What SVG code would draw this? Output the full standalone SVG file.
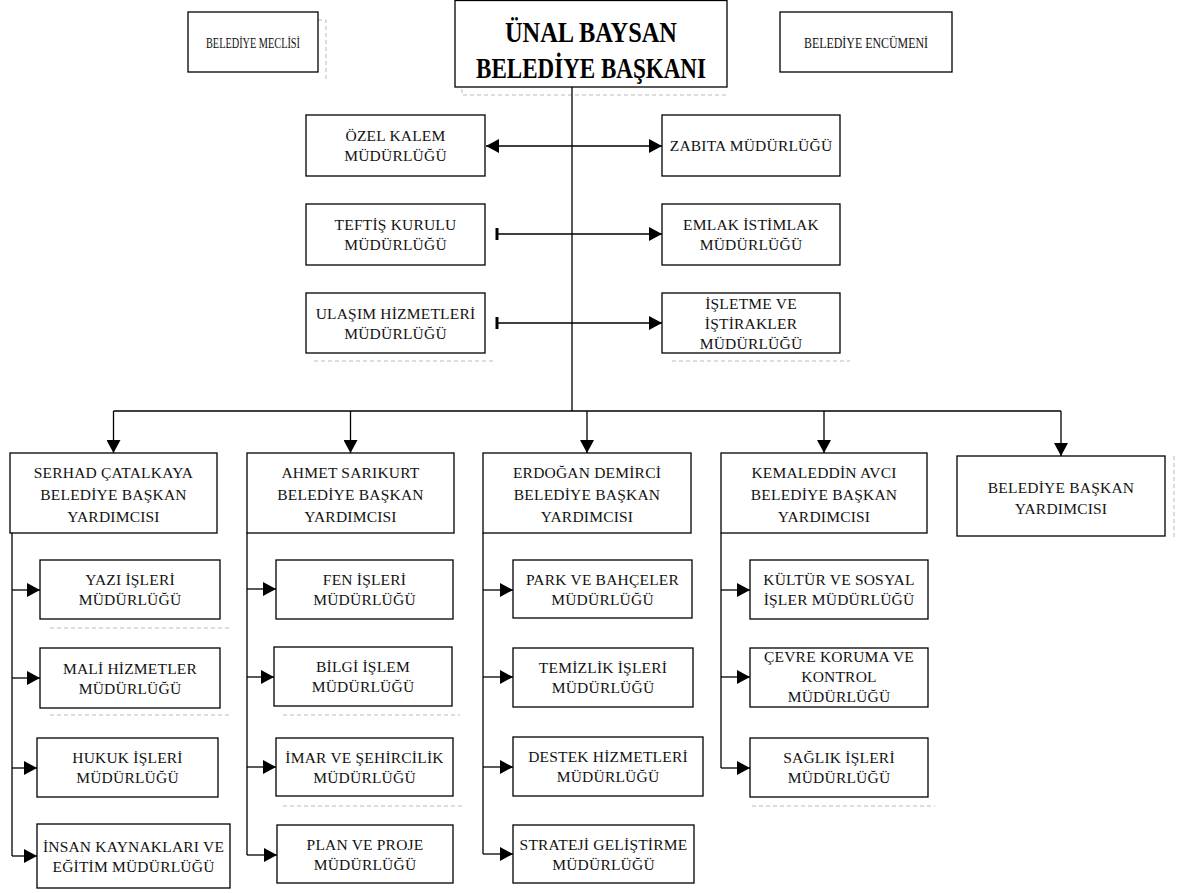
<svg xmlns="http://www.w3.org/2000/svg" width="1179" height="893" viewBox="0 0 1179 893">
<style>
.b{fill:#fff;stroke:#000;stroke-width:1.3}
.t{font-family:"Liberation Serif",serif;font-size:15.5px;text-anchor:middle;fill:#111;letter-spacing:0.2px}
.s{font-size:15.5px;letter-spacing:0}
.h{font-family:"Liberation Serif",serif;font-size:29px;font-weight:bold;text-anchor:middle;fill:#000}
.c{fill:none;stroke:#000;stroke-width:1.3}
.k{fill:none;stroke:#000;stroke-width:3}
.a{fill:none;stroke:#000;stroke-width:1.3;marker-end:url(#ar)}
.g{fill:none;stroke:#bbb;stroke-width:1;stroke-dasharray:4 3}
</style>
<defs>
<marker id="ar" markerUnits="userSpaceOnUse" markerWidth="14" markerHeight="14" refX="13" refY="7" orient="auto-start-reverse"><path d="M0,0 L13,7 L0,14 z" fill="#000"/></marker>
</defs>
<rect width="1179" height="893" fill="#fff"/>

<g id="decor">
<path class="g" d="M318,20 H326 V82"/>
<path class="g" d="M462,89 V95 H727"/>
<path class="g" d="M314,361 H495 M672,361 H850"/>
<path class="g" d="M50,628 H230 M50,715 H230"/>
<path class="g" d="M283,715 H460 M283,806 H463"/>
<path class="g" d="M752,806 H935"/>
<path class="g" d="M1174,456 V540"/>
</g>

<g id="connectors">
<path class="c" d="M572,87 V411"/>
<path class="c" d="M486,146 H662" marker-start="url(#ar)" marker-end="url(#ar)"/>
<path class="a" d="M497,234 H662"/>
<path class="k" d="M497,228 V240"/>
<path class="a" d="M497,323 H662"/>
<path class="k" d="M497,317 V329"/>
<path class="c" d="M113.5,411 H1061"/>
<path class="a" d="M113.5,411 V453"/>
<path class="a" d="M350.5,411 V453"/>
<path class="a" d="M587,411 V453"/>
<path class="a" d="M824,411 V453"/>
<path class="a" d="M1061,411 V456"/>
<path class="c" d="M12,533 V856"/>
<path class="a" d="M12,590 H40"/>
<path class="a" d="M12,678 H40"/>
<path class="a" d="M12,768 H37"/>
<path class="a" d="M12,856 H37"/>
<path class="c" d="M247,533 V855"/>
<path class="a" d="M247,589 H276"/>
<path class="a" d="M247,677 H274"/>
<path class="a" d="M247,767 H276"/>
<path class="a" d="M247,855 H277"/>
<path class="c" d="M483,533 V854"/>
<path class="a" d="M483,590 H513"/>
<path class="a" d="M483,677 H513"/>
<path class="a" d="M483,767 H513"/>
<path class="a" d="M483,854 H513"/>
<path class="c" d="M721,533 V768"/>
<path class="a" d="M721,590 H750"/>
<path class="a" d="M721,677 H750"/>
<path class="a" d="M721,768 H750"/>
</g>

<g id="meclis"><rect class="b" x="188" y="12" width="130" height="60"/><text class="t s" x="253" y="48" textLength="94" lengthAdjust="spacingAndGlyphs">BELEDİYE MECLİSİ</text></g>
<g id="baskan"><rect class="b" x="455" y="0.5" width="272" height="86.5"/><text class="h" x="591" y="42" textLength="172" lengthAdjust="spacingAndGlyphs">ÜNAL BAYSAN</text><text class="h" x="591" y="78" textLength="230" lengthAdjust="spacingAndGlyphs">BELEDİYE BAŞKANI</text></g>
<g id="encumen"><rect class="b" x="780" y="12" width="172" height="60"/><text class="t s" x="866" y="48" textLength="124" lengthAdjust="spacingAndGlyphs">BELEDİYE ENCÜMENİ</text></g>

<g id="ozelkalem"><rect class="b" x="306" y="115" width="179" height="61"/><text class="t" x="395.5" y="141">ÖZEL KALEM</text><text class="t" x="395.5" y="161">MÜDÜRLÜĞÜ</text></g>
<g id="zabita"><rect class="b" x="662" y="115" width="178" height="61"/><text class="t" x="751" y="151">ZABITA MÜDÜRLÜĞÜ</text></g>
<g id="teftis"><rect class="b" x="306" y="204" width="179" height="61"/><text class="t" x="395.5" y="230">TEFTİŞ KURULU</text><text class="t" x="395.5" y="250">MÜDÜRLÜĞÜ</text></g>
<g id="emlak"><rect class="b" x="662" y="204" width="178" height="61"/><text class="t" x="751" y="230">EMLAK İSTİMLAK</text><text class="t" x="751" y="250">MÜDÜRLÜĞÜ</text></g>
<g id="ulasim"><rect class="b" x="306" y="293" width="179" height="60"/><text class="t" x="395.5" y="318.5">ULAŞIM HİZMETLERİ</text><text class="t" x="395.5" y="338.5">MÜDÜRLÜĞÜ</text></g>
<g id="isletme"><rect class="b" x="662" y="293" width="178" height="60"/><text class="t" x="751" y="309">İŞLETME VE</text><text class="t" x="751" y="329">İŞTİRAKLER</text><text class="t" x="751" y="349">MÜDÜRLÜĞÜ</text></g>

<g id="serhad"><rect class="b" x="10" y="453" width="207" height="80"/><text class="t" x="113.5" y="478">SERHAD ÇATALKAYA</text><text class="t" x="113.5" y="500">BELEDİYE BAŞKAN</text><text class="t" x="113.5" y="522">YARDIMCISI</text></g>
<g id="ahmet"><rect class="b" x="247" y="453" width="207" height="80"/><text class="t" x="350.5" y="478">AHMET SARIKURT</text><text class="t" x="350.5" y="500">BELEDİYE BAŞKAN</text><text class="t" x="350.5" y="522">YARDIMCISI</text></g>
<g id="erdogan"><rect class="b" x="483" y="453" width="208" height="80"/><text class="t" x="587" y="478">ERDOĞAN DEMİRCİ</text><text class="t" x="587" y="500">BELEDİYE BAŞKAN</text><text class="t" x="587" y="522">YARDIMCISI</text></g>
<g id="kemaleddin"><rect class="b" x="721" y="453" width="206" height="80"/><text class="t" x="824" y="478">KEMALEDDİN AVCI</text><text class="t" x="824" y="500">BELEDİYE BAŞKAN</text><text class="t" x="824" y="522">YARDIMCISI</text></g>
<g id="yardimci"><rect class="b" x="957" y="456" width="208" height="80"/><text class="t" x="1061" y="493">BELEDİYE BAŞKAN</text><text class="t" x="1061" y="514">YARDIMCISI</text></g>

<g id="yazi"><rect class="b" x="40" y="560" width="180" height="59"/><text class="t" x="130" y="585">YAZI İŞLERİ</text><text class="t" x="130" y="605">MÜDÜRLÜĞÜ</text></g>
<g id="mali"><rect class="b" x="40" y="648" width="180" height="60"/><text class="t" x="130" y="673.5">MALİ HİZMETLER</text><text class="t" x="130" y="693.5">MÜDÜRLÜĞÜ</text></g>
<g id="hukuk"><rect class="b" x="37" y="738" width="181" height="59"/><text class="t" x="127.5" y="763">HUKUK İŞLERİ</text><text class="t" x="127.5" y="783">MÜDÜRLÜĞÜ</text></g>
<g id="insan"><rect class="b" x="37" y="824" width="193" height="64"/><text class="t" x="133.5" y="851.5">İNSAN KAYNAKLARI VE</text><text class="t" x="133.5" y="871.5">EĞİTİM MÜDÜRLÜĞÜ</text></g>

<g id="fen"><rect class="b" x="276" y="560" width="177" height="59"/><text class="t" x="364.5" y="585">FEN İŞLERİ</text><text class="t" x="364.5" y="605">MÜDÜRLÜĞÜ</text></g>
<g id="bilgi"><rect class="b" x="274" y="647" width="178" height="59"/><text class="t" x="363" y="672">BİLGİ İŞLEM</text><text class="t" x="363" y="692">MÜDÜRLÜĞÜ</text></g>
<g id="imar"><rect class="b" x="276" y="738" width="177" height="58"/><text class="t" x="364.5" y="762.5">İMAR VE ŞEHİRCİLİK</text><text class="t" x="364.5" y="782.5">MÜDÜRLÜĞÜ</text></g>
<g id="plan"><rect class="b" x="277" y="825" width="176" height="58"/><text class="t" x="365" y="849.5">PLAN VE PROJE</text><text class="t" x="365" y="869.5">MÜDÜRLÜĞÜ</text></g>

<g id="park"><rect class="b" x="513" y="560" width="179" height="58"/><text class="t" x="602.5" y="584.5">PARK VE BAHÇELER</text><text class="t" x="602.5" y="604.5">MÜDÜRLÜĞÜ</text></g>
<g id="temizlik"><rect class="b" x="513" y="648" width="180" height="59"/><text class="t" x="603" y="673">TEMİZLİK İŞLERİ</text><text class="t" x="603" y="693">MÜDÜRLÜĞÜ</text></g>
<g id="destek"><rect class="b" x="513" y="737" width="190" height="59"/><text class="t" x="608" y="762">DESTEK HİZMETLERİ</text><text class="t" x="608" y="782">MÜDÜRLÜĞÜ</text></g>
<g id="strateji"><rect class="b" x="513" y="825" width="181" height="58"/><text class="t" x="603.5" y="849.5">STRATEJİ GELİŞTİRME</text><text class="t" x="603.5" y="869.5">MÜDÜRLÜĞÜ</text></g>

<g id="kultur"><rect class="b" x="750" y="560" width="178" height="59"/><text class="t" x="839" y="585">KÜLTÜR VE SOSYAL</text><text class="t" x="839" y="605">İŞLER MÜDÜRLÜĞÜ</text></g>
<g id="cevre"><rect class="b" x="750" y="648" width="178" height="59"/><text class="t" x="839" y="662">ÇEVRE KORUMA VE</text><text class="t" x="839" y="682">KONTROL</text><text class="t" x="839" y="702">MÜDÜRLÜĞÜ</text></g>
<g id="saglik"><rect class="b" x="750" y="738" width="178" height="59"/><text class="t" x="839" y="763">SAĞLIK İŞLERİ</text><text class="t" x="839" y="783">MÜDÜRLÜĞÜ</text></g>
</svg>
